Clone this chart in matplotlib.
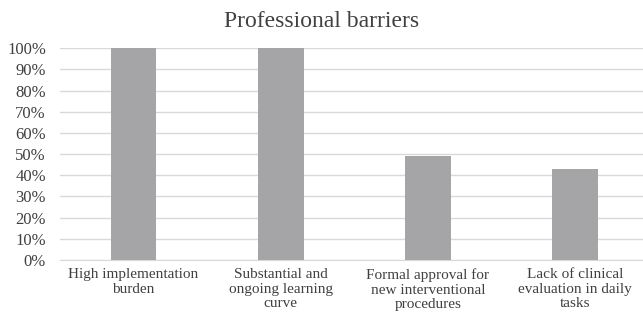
import numpy as np
import matplotlib
matplotlib.use("Agg")
import matplotlib.pyplot as plt
from matplotlib.ticker import PercentFormatter

categories = ["High implementation\nburden",
              "Substantial and\nongoing learning\ncurve",
              "Formal approval for\nnew interventional\nprocedures",
              "Lack of clinical\nevaluation in daily\ntasks"]
shares = [1.00, 1.00, 0.49, 0.43]
yticks = np.arange(0, 1.01, 0.1)

plt.rcParams["font.family"] = ["Liberation Serif", "DejaVu Serif"]

fig = plt.figure(figsize=(6.43, 3.21), dpi=100)
ax = fig.add_axes([0.093, 0.19, 0.907, 0.66])

x = np.arange(len(categories))
ax.bar(x, shares, width=0.31, color="#a5a5a7", zorder=3)

ax.set_ylim(0, 1.0)
ax.set_xlim(-0.5, 3.46)
ax.set_yticks(yticks)
ax.yaxis.set_major_formatter(PercentFormatter(1.0, decimals=0))
ax.set_xticks(x)
ax.set_xticklabels(categories, fontsize=11, color="#404040", linespacing=1.15)
ax.tick_params(axis="y", labelsize=12, labelcolor="#404040", length=0, pad=10)
ax.tick_params(axis="x", length=0, pad=6)

ax.grid(axis="y", color="#d9d9d9", linewidth=1.0, zorder=0)
for s in ["top", "right", "left"]:
    ax.spines[s].set_visible(False)
ax.spines["bottom"].set_color("#d9d9d9")

fig.suptitle("Professional barriers", fontsize=17, color="#404040", y=0.965)

fig.savefig("out.png", dpi=100)
